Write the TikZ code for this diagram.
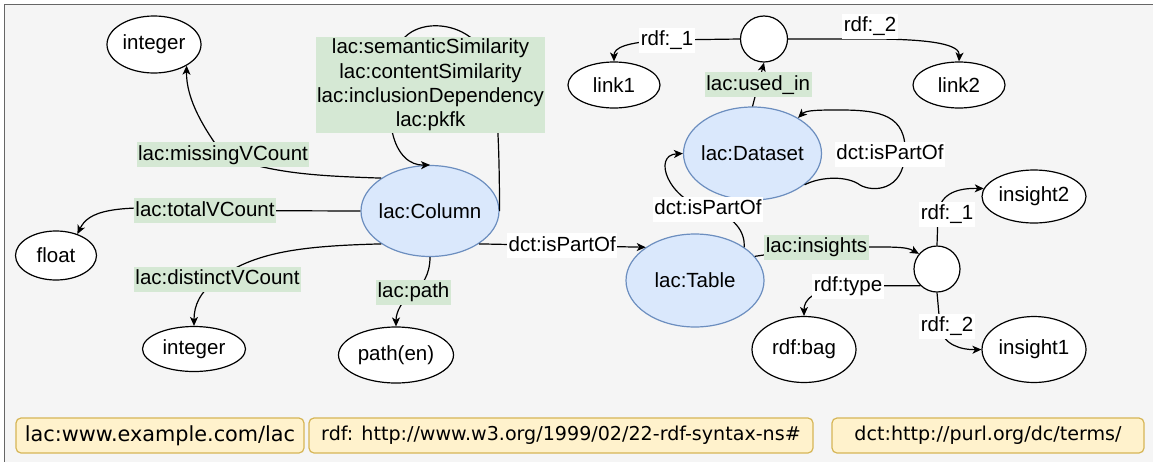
\documentclass[tikz,border=0pt]{standalone}
\usepackage{fontspec}
\setmainfont{Liberation Sans}
\newfontfamily\legendfont{DejaVu Sans}
\usetikzlibrary{shapes.geometric,arrows.meta}
\definecolor{bgfill}{RGB}{245,245,245}
\definecolor{framestroke}{RGB}{102,102,102}
\definecolor{entfill}{RGB}{218,232,252}
\definecolor{entstroke}{RGB}{108,142,191}
\definecolor{lblgreen}{RGB}{213,232,212}
\definecolor{legfill}{RGB}{255,242,204}
\definecolor{legstroke}{RGB}{214,182,86}
\begin{document}
\begin{tikzpicture}[x=1pt,y=-1pt,
  every node/.style={font=\fontsize{20.5}{24.3}\selectfont},
  conn/.style={line width=1.2pt, -{Stealth[length=9pt,width=8pt,inset=2.5pt]}},
  plain/.style={ellipse, draw=black, fill=white, line width=1.2pt, inner sep=0pt},
  entity/.style={ellipse, draw=entstroke, fill=entfill, line width=1.2pt, inner sep=0pt},
  dims/.style 2 args={minimum width=#1pt, minimum height=#2pt},
  txt/.style={label={center:{#1}}},
  glbl/.style={fill=lblgreen, inner xsep=1.5pt, inner ysep=2.5pt, text height=15.5pt, text depth=4.5pt},
  wlbl/.style={glbl, fill=white},
  multilbl/.style={fill=lblgreen, align=center, inner sep=0pt, minimum width=229pt, minimum height=96pt},
  legbox/.style={draw=legstroke, fill=legfill, rounded corners=5pt, line width=1.2pt,
    minimum height=35pt, inner sep=0pt, font=\legendfont\fontsize{19.1}{22}\selectfont}
]
\useasboundingbox (0,0) rectangle (1153,461);
% canvas frame
\begin{scope}
  \clip (0,0) rectangle (1153,461);
  \draw[draw=framestroke, fill=bgfill, line width=1.2pt] (4.7,4.7) rectangle (1170,480);
\end{scope}

% column-level nodes
\node[entity, dims={138}{91}, txt={lac:Column}] (col) at (430,211) {};
\node[plain, dims={94}{57}, txt={integer}] (int1) at (154,44.5) {};
\node[plain, dims={81}{49}, txt={float}] (flt) at (56,255.5) {};
\node[plain, dims={103}{45}, txt={integer}] (int2) at (194,349) {};
\node[plain, dims={115}{56}, txt={path(en)}] (pth) at (396,355) {};

% table / dataset nodes
\node[entity, dims={138}{93}, txt={lac:Table}] (tab) at (695,280.5) {};
\node[entity, dims={138}{93}, txt={lac:Dataset}] (ds) at (752.5,153.5) {};
\node[plain, dims={47}{46}] (bn1) at (764,39) {};
\node[plain, dims={92}{46}, txt={link1}] (lnk1) at (614,85) {};
\node[plain, dims={92}{46}, txt={link2}] (lnk2) at (959,85) {};
\node[plain, dims={46}{46}] (bn2) at (937,269) {};
\node[plain, dims={104}{53}, txt={insight2}] (ins2) at (1034,196.5) {};
\node[plain, dims={104}{66}, txt={insight1}] (ins1) at (1034,349.5) {};
\node[plain, dims={104}{66}, txt={rdf:bag}] (bag) at (804,349.5) {};

% column properties
\draw[conn] (col.146.6) .. controls (320,176) and (270,174) .. (223,154.5)
  node[glbl]{lac:missingVCount}
  .. controls (205,130) and (186,100) .. (int1.-33);
\draw[conn] (col.west) -- (205,210.5) node[glbl]{lac:totalVCount}
  .. controls (110,203) and (88,212) .. (flt.45);
\draw[conn] (col.214.5) .. controls (300,246) and (255,252) .. (217.5,279)
  node[glbl]{lac:distinctVCount}
  .. controls (200,292) and (194,305) .. (int2.north);
\draw[conn] (col.south) .. controls (430,275) and (422,286) .. (413.5,292)
  node[glbl]{lac:path}
  .. controls (402,300) and (396,312) .. (pth.north);
\draw[conn] (col.east) .. controls (499,120) and (497,50) .. (470,37)
  .. controls (450,22) and (420,22) .. (405,37)
  node[multilbl, at={(430.5,85)}]{lac:semanticSimilarity\\lac:contentSimilarity\\lac:inclusionDependency\\lac:pkfk}
  .. controls (375,120) and (395,166) .. (col.north);

% structural links
\draw[conn] (col.-34.8) -- node[wlbl]{dct:isPartOf} (tab.146.6);
\draw[conn] (tab.34) .. controls (745,232) and (735,216) .. (708,209)
  node[wlbl]{dct:isPartOf}
  .. controls (668,200) and (652,155) .. (ds.west);
\draw[conn] (ds.-31) .. controls (822,176) and (848,176) .. (860,185)
  .. controls (872,192) and (903,192) .. (905,154)
  node[wlbl, xshift=-15pt]{dct:isPartOf}
  .. controls (907,115) and (880,110) .. (840,110)
  .. controls (820,110) and (806,110) .. (ds.38);

% dataset usage
\draw[conn] (ds.north) -- node[glbl]{lac:used\_in} (bn1.south);
\draw[conn] (bn1.west) -- (667,40) node[wlbl]{rdf:\_1}
  .. controls (625,42) and (614,48) .. (lnk1.north);
\draw[conn] (bn1.east) -- (870,39) node[wlbl, yshift=13pt]{rdf:\_2}
  .. controls (935,39) and (960,45) .. (lnk2.north);

% table insights
\draw[conn] (tab.22) -- (816.5,247) node[glbl]{lac:insights}
  .. controls (895,247) and (905,246) .. (bn2.140);
\draw[conn] (bn2.225) -- (848,286) node[wlbl]{rdf:type}
  .. controls (812,290) and (804,300) .. (bag.north);
\draw[conn] (bn2.north) -- (938,214) node[wlbl, xshift=9pt]{rdf:\_1}
  .. controls (940,192) and (960,188) .. (ins2.171);
\draw[conn] (bn2.south) -- (940,326) node[wlbl, xshift=7pt]{rdf:\_2}
  .. controls (942,345) and (962,350) .. (ins1.west);

% namespace legend
\node[legbox, minimum width=288pt, font=\legendfont\fontsize{20.8}{24}\selectfont] (nslac) at (160,435.5) {lac:www.example.com/lac};
\node[legbox, minimum width=504pt] (nsrdf) at (561,435.5) {rdf: http://www.w3.org/1999/02/22-rdf-syntax-ns\#};
\node[legbox, minimum width=312pt] (nsdct) at (988,435.5) {dct:http://purl.org/dc/terms/};
\end{tikzpicture}
\end{document}
